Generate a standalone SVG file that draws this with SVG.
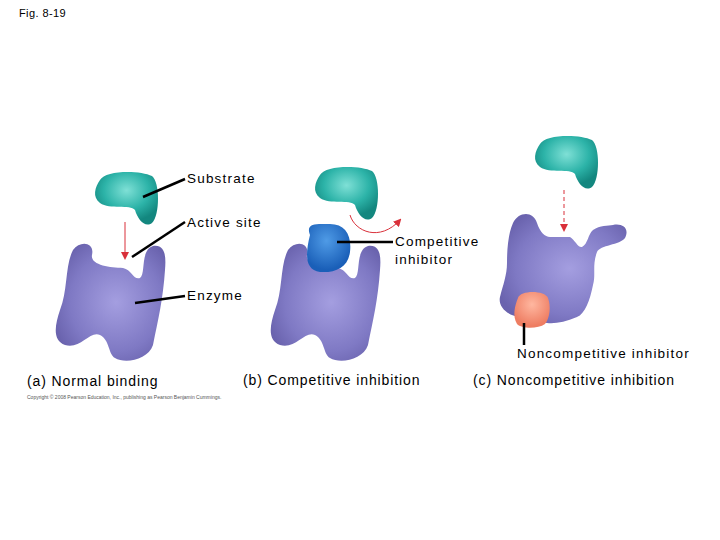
<svg xmlns="http://www.w3.org/2000/svg" width="720" height="540" viewBox="0 0 720 540">
<defs>
<radialGradient id="enz" cx="0.55" cy="0.5" r="0.6"><stop offset="0" stop-color="#a49ee0"/><stop offset="0.7" stop-color="#7f79c4"/><stop offset="1" stop-color="#6a63ae"/></radialGradient>
<radialGradient id="sub" cx="0.5" cy="0.35" r="0.6"><stop offset="0" stop-color="#7fe0d6"/><stop offset="0.6" stop-color="#2cb3a8"/><stop offset="1" stop-color="#13877f"/></radialGradient>
<radialGradient id="ci" cx="0.45" cy="0.35" r="0.6"><stop offset="0" stop-color="#4f9be6"/><stop offset="1" stop-color="#1a5fb8"/></radialGradient>
<radialGradient id="nc" cx="0.5" cy="0.35" r="0.6"><stop offset="0" stop-color="#ffb7a0"/><stop offset="1" stop-color="#ee7d62"/></radialGradient>
<marker id="ah" markerWidth="8" markerHeight="8" refX="6" refY="4" orient="auto" markerUnits="userSpaceOnUse"><path d="M0,0 L8,4 L0,8 Z" fill="#d9303a"/></marker>
<path id="enzA" d="M73,250 C80,240 95,242 92,255 C90,265 110,268 123,268 C132,270 133,280 140,278 C146,274 140,250 153,246 C166,244 166,258 165,270 C163,300 158,320 153,345 C148,360 125,364 115,358 C108,354 110,340 100,335 C90,330 80,350 65,345 C52,340 55,325 60,310 C68,290 65,265 73,250 Z"/>
<path id="subA" d="M100,180 C105,170 140,170 152,176 C160,182 160,215 152,223 C145,228 138,220 135,210 C130,204 110,210 100,203 C92,197 95,187 100,180 Z"/>
</defs>
<style>
text{font-family:"Liberation Sans",Arial,sans-serif;fill:#000}
.lbl{font-size:13.5px;letter-spacing:1.2px}
.cap{font-size:14px;letter-spacing:0.9px}
.ln{stroke:#000;stroke-width:2.5;fill:none}
</style>
<rect width="720" height="540" fill="#fff"/>
<text x="19" y="17" font-size="11" letter-spacing="0.4">Fig. 8-19</text>
<g id="panel-a">
<use href="#enzA" fill="url(#enz)"/>
<use href="#subA" fill="url(#sub)"/>
</g>
<g id="panel-b">
<use href="#enzA" transform="translate(215,0)" fill="url(#enz)"/>
<use href="#subA" transform="translate(220,-5)" fill="url(#sub)"/>
<path d="M310,235 C305,222 318,224 330,224 C345,224 352,235 350,252 C348,268 335,273 320,272 C305,270 305,255 310,235 Z" fill="url(#ci)"/>
</g>
<g id="panel-c">
<path d="M513,223 C518,212 533,210 537,223 C540,232 545,237 550,237 L570,237 C575,240 578,248 582,247 C588,244 588,234 593,230 C600,225 608,226 613,225 C622,223 630,228 625,238 C620,245 600,245 597,252 C592,265 596,275 593,285 C590,300 585,314 577,317 C565,322 555,324 547,323 C535,322 528,318 520,317 C505,315 498,305 500,297 C503,285 507,275 507,263 C507,245 509,232 513,223 Z" fill="url(#enz)"/>
<path d="M518,298 C520,290 545,290 548,298 C551,306 550,318 545,324 C538,329 522,329 517,324 C512,316 515,305 518,298 Z" fill="url(#nc)"/>
<use href="#subA" transform="translate(440,-36)" fill="url(#sub)"/>
</g>
<g id="connectors">
<path d="M125,222 L125,258" stroke="#d9303a" stroke-width="1" marker-end="url(#ah)"/>
<path d="M350,215 C355,232 380,242 400,220" stroke="#d9303a" stroke-width="1" fill="none" marker-end="url(#ah)"/>
<path d="M564,190 L564,230" stroke="#d9303a" stroke-width="1" stroke-dasharray="4,3" marker-end="url(#ah)"/>
<line class="ln" x1="143" y1="197" x2="185" y2="179"/>
<line class="ln" x1="132" y1="257" x2="185" y2="222"/>
<line class="ln" x1="135" y1="303" x2="185" y2="296"/>
<line class="ln" x1="337" y1="242" x2="393" y2="242"/>
<line class="ln" x1="524" y1="323" x2="524" y2="345"/>
</g>
<text class="lbl" x="187" y="183">Substrate</text>
<text class="lbl" x="187" y="227">Active site</text>
<text class="lbl" x="187" y="300">Enzyme</text>
<text class="lbl" x="395" y="246">Competitive</text>
<text class="lbl" x="395" y="264">inhibitor</text>
<text class="lbl" x="517" y="358" letter-spacing="1.5">Noncompetitive inhibitor</text>
<text class="cap" x="27" y="386">(a) Normal binding</text>
<text class="cap" x="243" y="385">(b) Competitive inhibition</text>
<text class="cap" x="473" y="385">(c) Noncompetitive inhibition</text>
<text x="27" y="399" font-size="5" style="fill:#555">Copyright © 2008 Pearson Education, Inc., publishing as Pearson Benjamin Cummings.</text>
</svg>
